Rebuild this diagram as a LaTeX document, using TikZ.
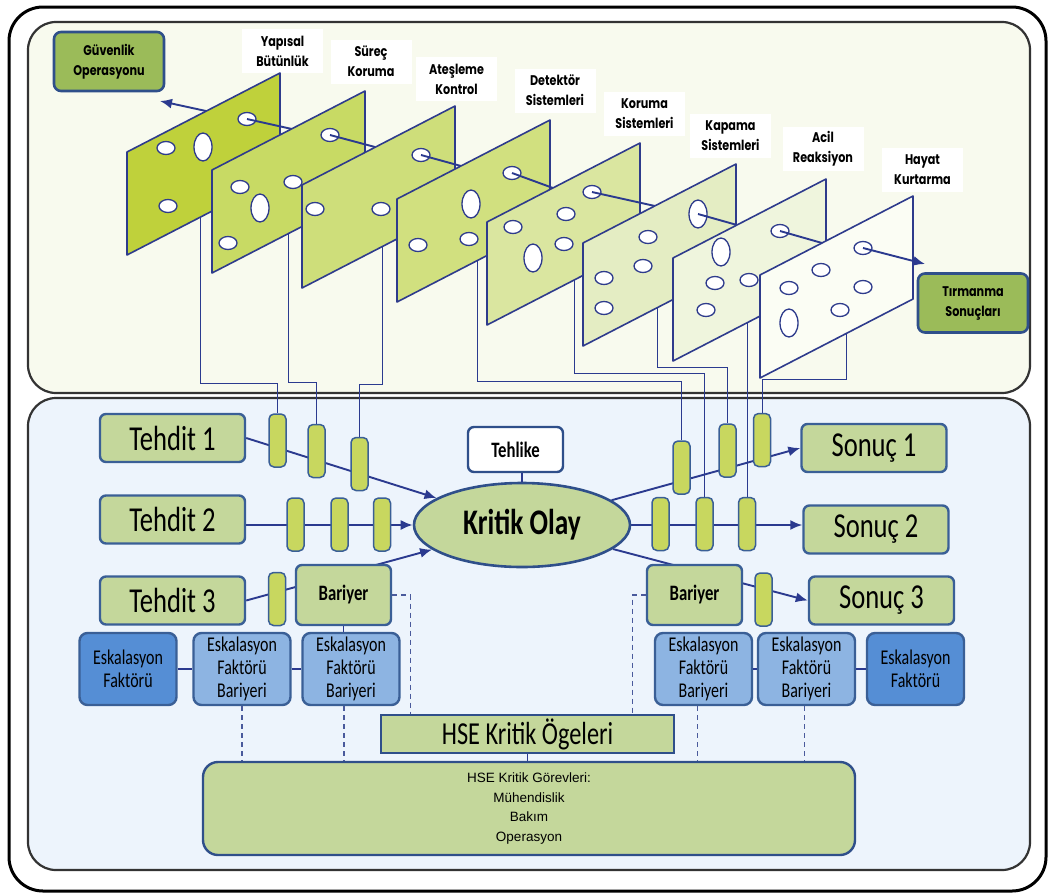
\documentclass[tikz,border=0pt]{standalone}
\usepackage{fontspec}
\setmainfont{Carlito}
\newfontfamily\narrowcal[FakeStretch=0.76]{Carlito}
\newfontfamily\geofont[FakeStretch=0.8]{Poppins}
\newfontfamily\arialfont{Liberation Sans}
\usetikzlibrary{arrows.meta,shapes.geometric}

\definecolor{slabline}{HTML}{2E3B8C}
\definecolor{linkblue}{HTML}{2B3A8F}
\definecolor{boxline}{HTML}{3A5F96}
\definecolor{boxgreen}{HTML}{C4D79B}
\definecolor{barfill}{HTML}{C8D75F}
\definecolor{panelA}{HTML}{F8FAEE}
\definecolor{panelB}{HTML}{EDF4FC}
\definecolor{escdark}{HTML}{558ED5}
\definecolor{esclight}{HTML}{8DB4E2}
\definecolor{endgreen}{HTML}{9BBB59}
\definecolor{endline}{HTML}{2F4F8A}
\definecolor{dashblue}{HTML}{4A5A9C}
\definecolor{slabA}{HTML}{BFD13B}
\definecolor{slabB}{HTML}{C8DA64}
\definecolor{slabC}{HTML}{CEDE7A}
\definecolor{slabD}{HTML}{D1E07F}
\definecolor{slabE}{HTML}{DAE6A0}
\definecolor{slabF}{HTML}{E4EDC3}
\definecolor{slabG}{HTML}{EFF5DD}
\definecolor{slabH}{HTML}{FBFDF4}

\pgfdeclarelayer{back}
\pgfdeclarelayer{wires}
\pgfsetlayers{back,wires,main}

\begin{document}
\begin{tikzpicture}[x=1pt,y=-1pt,
    slab/.style={draw=slabline,line width=1.6pt,line join=round},
    hole/.style={draw=slabline,fill=white,line width=1.3pt,x radius=9pt,y radius=6.5pt},
    tall/.style={hole,y radius=14pt},
    link/.style={draw=linkblue,line width=1.9pt},
    feed/.style={draw=linkblue,line width=1pt},
    dashlink/.style={draw=dashblue,line width=1.2pt,dash pattern=on 5pt off 4pt},
    tip/.style={-{Latex[length=12pt,width=10pt]}},
    tag/.style={fill=white,align=center,minimum width=81pt,minimum height=44pt,inner sep=0pt,
        font=\geofont\bfseries\fontsize{14}{20}\selectfont},
    endbox/.style={draw=endline,fill=endgreen,line width=2.6pt,rounded corners=7pt,align=center,
        minimum width=110pt,minimum height=59pt,inner sep=0pt,font=\geofont\bfseries\fontsize{14}{20}\selectfont},
    greenbox/.style={draw=boxline,fill=boxgreen,line width=2.4pt,rounded corners=6pt,inner sep=0pt,
        minimum width=145pt,minimum height=48pt,font=\narrowcal\fontsize{35}{40}\selectfont},
    barbox/.style={draw=boxline,fill=boxgreen,line width=2.4pt,rounded corners=6pt,inner sep=0pt,
        minimum width=95pt,minimum height=60pt,font=\narrowcal\bfseries\fontsize{22}{26}\selectfont},
    bar/.style={draw=boxline,fill=barfill,line width=1.5pt,rounded corners=5pt,inner sep=0pt,
        minimum width=17pt,minimum height=53pt},
    escbox/.style={draw=boxline,fill=esclight,line width=2.4pt,rounded corners=8pt,inner sep=0pt,align=center,
        minimum width=97pt,minimum height=72pt,font=\narrowcal\fontsize{21}{23}\selectfont},
    escfac/.style={escbox,fill=escdark}]

\useasboundingbox (0,0) rectangle (1051,894);

\begin{pgfonlayer}{back}
  \draw[line width=3pt,rounded corners=34pt,fill=white] (9,7) rectangle (1046,891);
  \draw[line width=2.2pt,draw=black!80,fill=panelA,rounded corners=28pt] (28,22) rectangle (1030,393);
  \draw[line width=2.2pt,draw=black!80,fill=panelB,rounded corners=28pt] (28,398) rectangle (1030,870);
\end{pgfonlayer}

% barrier labels
\node[tag] (yapisal) at (282.5,51) {Yapısal\\Bütünlük};
\node[tag] (surec) at (371,61.5) {Süreç\\Koruma};
\node[tag] (atesleme) at (456.5,79) {Ateşleme\\Kontrol};
\node[tag] (detektor) at (555,90.5) {Detektör\\Sistemleri};
\node[tag] (koruma) at (644.5,113.5) {Koruma\\Sistemleri};
\node[tag] (kapama) at (730.5,136) {Kapama\\Sistemleri};
\node[tag] (acil) at (823,148.5) {Acil\\Reaksiyon};
\node[tag] (hayat) at (922.5,170) {Hayat\\Kurtarma};

\node[endbox] (guvenlik) at (109,61.5) {Güvenlik\\Operasyonu};
\node[endbox] (tirmanma) at (973,303) {Tırmanma\\Sonuçları};

% slab 1
\filldraw[slab,fill=slabA] (127,152) -- ++(153,-79) -- ++(0,103) -- ++(-153,79) -- cycle;
\draw[hole] (166,148) ellipse;
\draw[tall] (203,147) ellipse;
\draw[hole] (168,206) ellipse;
\draw[hole] (247,119) ellipse;
\coordinate (h1) at (247,119);
\coordinate (e1) at (292,129);
\draw[link] (h1) -- (e1);
\coordinate (g0) at (206,111);
\coordinate (g1) at (160,101);
\draw[link,tip] (g0) -- (g1);
\coordinate (f1) at (200,217.3);

% slab 2
\filldraw[slab,fill=slabB] (212,170) -- ++(153,-79) -- ++(0,103) -- ++(-153,79) -- cycle;
\draw[hole] (240,187) ellipse;
\draw[tall] (260,208) ellipse;
\draw[hole] (293,182) ellipse;
\draw[hole] (228,243) ellipse;
\draw[hole] (330,135) ellipse;
\coordinate (h2) at (330,135);
\coordinate (e2) at (375,147);
\draw[link] (h2) -- (e2);
\coordinate (f2) at (288,233.8);

% slab 3
\filldraw[slab,fill=slabC] (302,185) -- ++(153,-79) -- ++(0,103) -- ++(-153,79) -- cycle;
\draw[hole] (315,209) ellipse;
\draw[hole] (381,209) ellipse;
\draw[hole] (421,155) ellipse;
\coordinate (h3) at (421,155);
\coordinate (e3) at (461,166);
\draw[link] (h3) -- (e3);
\coordinate (f3) at (382,246.7);

% slab 4
\filldraw[slab,fill=slabD] (397,199) -- ++(153,-79) -- ++(0,103) -- ++(-153,79) -- cycle;
\draw[tall] (471,204) ellipse;
\draw[hole] (469,239) ellipse;
\draw[hole] (418,245) ellipse;
\draw[hole] (512,173) ellipse;
\coordinate (h4) at (512,173);
\coordinate (e4) at (553,188);
\draw[link] (h4) -- (e4);
\coordinate (f4) at (477,260.7);

% slab 5
\filldraw[slab,fill=slabE] (487,222) -- ++(153,-79) -- ++(0,103) -- ++(-153,79) -- cycle;
\draw[hole] (513,227) ellipse;
\draw[hole] (566,214) ellipse;
\draw[tall] (533,258) ellipse;
\draw[hole] (564,244) ellipse;
\draw[hole] (592,192) ellipse;
\coordinate (h5) at (592,192);
\coordinate (e5) at (655,206);
\draw[link] (h5) -- (e5);
\coordinate (f5) at (574,280);

% slab 6
\filldraw[slab,fill=slabF] (583,243) -- ++(153,-79) -- ++(0,103) -- ++(-153,79) -- cycle;
\draw[hole] (604,278) ellipse;
\draw[hole] (604,308) ellipse;
\draw[hole] (648,237) ellipse;
\draw[hole] (643,266) ellipse;
\draw[tall] (698,214) ellipse;
\coordinate (h6) at (698,214);
\coordinate (e6) at (737,225);
\draw[link] (h6) -- (e6);
\coordinate (f6) at (657,307.8);

% slab 7
\filldraw[slab,fill=slabG] (673,258) -- ++(153,-79) -- ++(0,103) -- ++(-153,79) -- cycle;
\draw[tall] (721,252) ellipse;
\draw[hole] (715,283) ellipse;
\draw[hole] (749,280) ellipse;
\draw[hole] (706,310) ellipse;
\draw[hole] (780,231) ellipse;
\coordinate (h7) at (780,231);
\coordinate (e7) at (822,243);
\draw[link] (h7) -- (e7);
\coordinate (f7) at (747,322.8);

% slab 8
\filldraw[slab,fill=slabH] (760,275) -- ++(153,-79) -- ++(0,103) -- ++(-153,79) -- cycle;
\draw[hole] (821,270) ellipse;
\draw[hole] (789,288) ellipse;
\draw[hole] (863,287) ellipse;
\draw[hole] (840,310) ellipse;
\draw[tall] (789,323) ellipse;
\draw[hole] (863,248) ellipse;
\coordinate (h8) at (863,248);
\coordinate (e8) at (925,264);
\draw[link,tip] (h8) -- (e8);
\coordinate (f8) at (846,333.6);

% bow tie
\node[greenbox] (t1) at (172.5,438) {Tehdit 1};
\node[greenbox] (t2) at (172.5,519.5) {Tehdit 2};
\node[greenbox] (t3) at (172.5,600.5) {Tehdit 3};
\node[greenbox] (s1) at (874,448) {Sonuç 1};
\node[greenbox] (s2) at (876,529.5) {Sonuç 2};
\node[greenbox] (s3) at (881.5,600.5) {Sonuç 3};

\node[ellipse,draw=endline,fill=boxgreen,line width=2.6pt,minimum width=216pt,minimum height=84pt,inner sep=0pt,
    font=\narrowcal\bfseries\fontsize{36}{40}\selectfont] (ko) at (522,525) {Kritik Olay};
\node[draw=endline,fill=white,line width=2.4pt,rounded corners=6pt,minimum width=95pt,minimum height=45pt,inner sep=0pt,
    font=\narrowcal\bfseries\fontsize{22}{26}\selectfont] (tehlike) at (515.5,449.5) {Tehlike};

\node[barbox] (bl) at (343.5,595) {Bariyer};
\node[barbox] (br) at (694.5,595) {Bariyer};

\node[bar] (b11) at (277.5,440.5) {};
\node[bar] (b12) at (316.5,451) {};
\node[bar] (b13) at (359.5,464) {};
\node[bar] (b21) at (295.5,524.5) {};
\node[bar] (b22) at (339.5,524.5) {};
\node[bar] (b23) at (382,524.5) {};
\node[bar] (b31) at (277,599) {};
\node[bar] (r11) at (681.5,467.5) {};
\node[bar] (r12) at (727.5,450.5) {};
\node[bar] (r13) at (762,440) {};
\node[bar] (r21) at (660.5,524) {};
\node[bar] (r22) at (704.5,524) {};
\node[bar] (r23) at (747,524) {};
\node[bar] (r31) at (763.5,599.5) {};

\node[escfac] (ef1) at (128,669) {Eskalasyon\\Faktörü};
\node[escbox] (el1) at (242,669) {Eskalasyon\\Faktörü\\Bariyeri};
\node[escbox] (el2) at (351,669) {Eskalasyon\\Faktörü\\Bariyeri};
\node[escbox] (er1) at (703.5,669) {Eskalasyon\\Faktörü\\Bariyeri};
\node[escbox] (er2) at (806.5,669) {Eskalasyon\\Faktörü\\Bariyeri};
\node[escfac] (ef2) at (915.5,669) {Eskalasyon\\Faktörü};

\node[draw=endline,fill=boxgreen,line width=2.4pt,minimum width=293pt,minimum height=38pt,inner sep=0pt,
    font=\narrowcal\fontsize{32}{36}\selectfont] (ogeler) at (527.5,734) {HSE Kritik Ögeleri};
\node[draw=endline,fill=boxgreen,line width=2.4pt,rounded corners=15pt,minimum width=652pt,minimum height=93pt,
    inner sep=0pt,align=center,font=\arialfont\fontsize{13.5}{19.7}\selectfont] (gorev) at (529,808.5)
    {HSE Kritik Görevleri:\\Mühendislik\\Bakım\\Operasyon};

\begin{pgfonlayer}{wires}
  \draw[link,tip] (t1.east) -- (ko);
  \draw[link,tip] (t2.east |- ko.center) -- (ko.west);
  \draw[link,tip] (t3.east) -- (ko);
  \draw[link,tip] (ko) -- (s1.west);
  \draw[link,tip] (ko.east) -- (ko.east -| s2.west);
  \draw[link,tip] (ko) -- (s3.west);
\end{pgfonlayer}

\draw[link,line width=1.2pt] (tehlike.south -| ko.north) -- (ko.north);
\draw[link,line width=1.5pt] (ef1.east) -- (el1.west);
\draw[link,line width=1.5pt] (el1.east) -- (el2.west);
\draw[link,line width=1.5pt] (er1.east) -- (er2.west);
\draw[link,line width=1.5pt] (er2.east) -- (ef2.west);
\draw[link,line width=1.5pt] (bl.south) -- (bl.south |- el2.north);
\draw[link,line width=1.2pt] (ogeler.south) -- (ogeler.south |- gorev.north);

\draw[dashlink] (bl.east) -| ([xshift=-117pt]ogeler.north);
\draw[dashlink] (br.west) -| ([xshift=105pt]ogeler.north);
\draw[dashlink] (el1.south) -- (el1.south |- gorev.north);
\draw[dashlink] ([xshift=-7pt]el2.south) -- ([xshift=-7pt]el2.south |- gorev.north);
\draw[dashlink] ([xshift=-6pt]er1.south) -- ([xshift=-6pt]er1.south |- gorev.north);
\draw[dashlink] ([xshift=-2pt]er2.south) -- ([xshift=-2pt]er2.south |- gorev.north);

% feeds from the slabs
\draw[feed] (f1) -- ++(0,166) -| (b11.north);
\draw[feed] (f2) -- ++(0,149) -| (b12.north);
\draw[feed] (f3) -- ++(0,138) -| (b13.north);
\draw[feed] (f4) -- ++(0,121) -| (r11.north);
\draw[feed] (f5) -- ++(0,93) -| (r22.north);
\draw[feed] (f6) -- ++(0,60) -| (r12.north);
\draw[feed] (f7) -- (f7 |- r23.north);
\draw[feed] (f8) -- ++(0,46) -| (r13.north);

\end{tikzpicture}
\end{document}
